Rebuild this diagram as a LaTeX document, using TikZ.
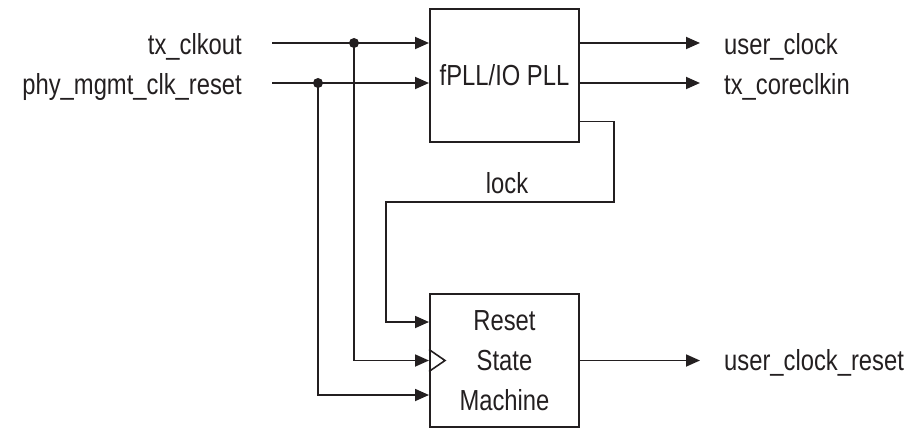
\documentclass[tikz,border=0pt]{standalone}
\usepackage{fontspec}
\setmainfont[FakeStretch=0.82]{Liberation Sans}
\usetikzlibrary{arrows.meta,positioning,calc}
\definecolor{pllink}{HTML}{231F20}
\tikzset{
  blk/.style={draw=pllink,line width=2pt,minimum width=149pt,align=center,
              inner sep=0pt,text=pllink,font=\fontsize{29}{40}\selectfont},
  sig/.style={-{Triangle[length=14pt,width=12pt]},line width=1.8pt,pllink},
  wire/.style={line width=1.6pt,pllink},
  pin/.style={font=\fontsize{29}{30}\selectfont,text=pllink,inner sep=0pt},
  jdot/.style={circle,fill=pllink,inner sep=0pt,minimum size=10pt},
}
\begin{document}
\begin{tikzpicture}[x=1pt,y=-1pt]
  \useasboundingbox (0,0) rectangle (908,428);
  \node[blk,minimum height=132pt] (pll) at (504.5,75.5) {fPLL/IO PLL};
  \node[blk,minimum height=133pt] (rsm) at (504.5,360.5) {Reset\\State\\Machine};
  % inputs
  \coordinate (txin) at (272,43);
  \coordinate (phyin) at (272,83);
  \node[pin,anchor=base east] (txlbl) at ([xshift=-30pt,yshift=-12pt]txin) {tx\_clkout};
  \node[pin,anchor=base east] (phylbl) at ([xshift=-30pt,yshift=-12pt]phyin) {phy\_mgmt\_clk\_reset};
  \draw[sig] (txin) -- (pll.west |- txin);
  \draw[sig] (phyin) -- (pll.west |- phyin);
  \node[jdot] (txj) at (354,43) {};
  \node[jdot] (phyj) at (318,83) {};
  \draw[sig] (txj.center) |- (rsm.west);
  \draw[sig] (phyj.center) |- ([yshift=-34.5pt]rsm.west);
  % lock
  \coordinate (lka) at (614,202);
  \coordinate (lkb) at (386,202);
  \draw[sig] ([yshift=-46pt]pll.east) -| (lka) -- (lkb) |- ([yshift=38.5pt]rsm.west);
  \node[pin,anchor=base] (locklbl) at (507,193) {lock};
  % clock mark
  \draw[wire] ([yshift=11pt]rsm.west) -- ++(16,11) -- ++(-16,11);
  % outputs
  \coordinate (uclk) at (700,43);
  \coordinate (tcore) at (700,83);
  \coordinate (ureset) at (700,360.5);
  \draw[sig] (pll.east |- uclk) -- (uclk);
  \draw[sig] (pll.east |- tcore) -- (tcore);
  \draw[sig] (rsm.east) -- (ureset);
  \node[pin,anchor=base west] (uclklbl) at ([xshift=24pt,yshift=-12pt]uclk) {user\_clock};
  \node[pin,anchor=base west] (tcorelbl) at ([xshift=24pt,yshift=-12pt]tcore) {tx\_coreclkin};
  \node[pin,anchor=base west] (uresetlbl) at ([xshift=24pt,yshift=-10pt]ureset) {user\_clock\_reset};
\end{tikzpicture}
\end{document}
